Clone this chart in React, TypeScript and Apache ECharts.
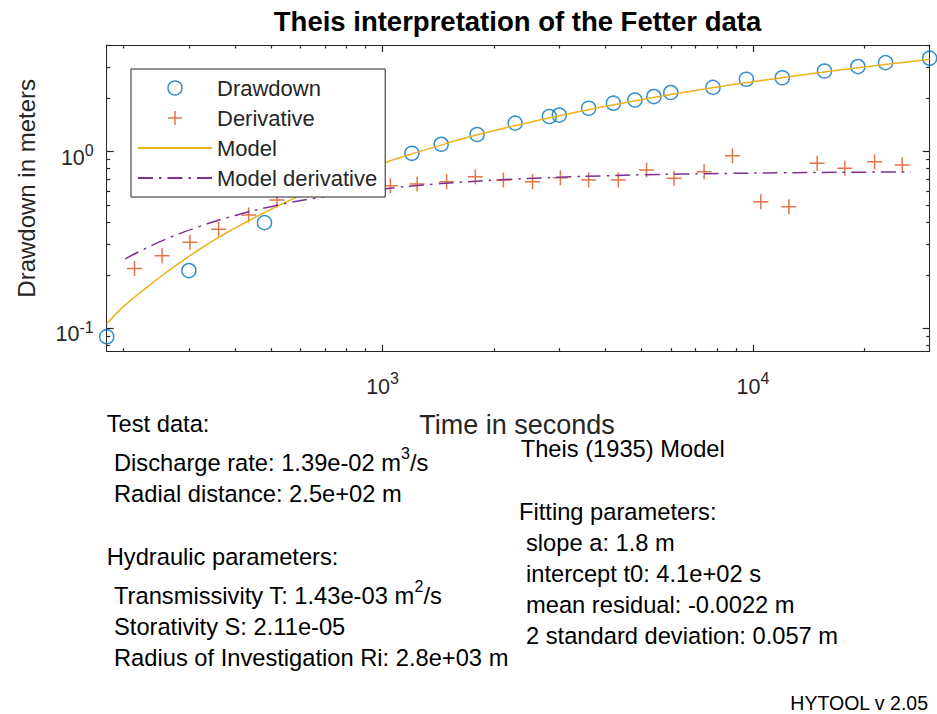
import React, { useEffect, useRef } from 'react';
import * as echarts from 'echarts';

// ---------- data ----------
const timeS = [180, 300, 480, 720, 1200, 1440, 1800, 2280, 2820, 3000, 3600, 4200, 4800, 5400, 6000, 7800, 9600, 12000, 15600, 19200, 22800, 30000];
const drawdownM = [0.0895, 0.212, 0.396, 0.64, 0.978, 1.1, 1.25, 1.45, 1.58, 1.61, 1.76, 1.88, 1.96, 2.05, 2.16, 2.31, 2.57, 2.62, 2.86, 3.03, 3.19, 3.38];

const derivTimeS = [214, 254, 302, 361, 435, 519, 1050, 1240, 1490, 1780, 2120, 2540, 3020, 3600, 4330, 5160, 6120, 7380, 8800, 10500, 12500, 14900, 17700, 21300, 25300];
const derivM = [0.218, 0.257, 0.307, 0.363, 0.438, 0.532, 0.641, 0.656, 0.676, 0.721, 0.691, 0.676, 0.711, 0.691, 0.691, 0.787, 0.706, 0.77, 0.948, 0.52, 0.488, 0.859, 0.804, 0.877, 0.84];

const modelTimeS = [180, 200, 230, 260, 300, 350, 400, 480, 600, 720, 850, 1000, 1200, 1500, 1800, 2300, 3000, 4000, 5000, 6000, 8000, 10000, 12500, 15000, 20000, 25000, 30000];
const modelM = [0.106, 0.133, 0.169, 0.206, 0.255, 0.314, 0.369, 0.452, 0.565, 0.664, 0.76, 0.858, 0.971, 1.118, 1.245, 1.409, 1.597, 1.805, 1.969, 2.105, 2.32, 2.488, 2.656, 2.795, 3.015, 3.185, 3.33];

const modelDerivTimeS = [202, 250, 321, 400, 507, 650, 850, 1016, 1300, 1600, 2000, 3000, 4000, 5000, 6500, 8700, 12000, 18000, 26700];
const modelDerivM = [0.247, 0.308, 0.377, 0.435, 0.491, 0.543, 0.59, 0.617, 0.648, 0.67, 0.689, 0.716, 0.73, 0.739, 0.747, 0.753, 0.759, 0.764, 0.767];

const xMajorTicks = [1000, 10000];
const xMinorTicks = [200, 300, 400, 500, 600, 700, 800, 900, 2000, 3000, 4000, 5000, 6000, 7000, 8000, 9000, 20000, 30000];
const yMajorTicks = [0.1, 1];
const yMinorTicks = [0.08, 0.09, 0.2, 0.3, 0.4, 0.5, 0.6, 0.7, 0.8, 0.9, 2, 3, 4];

const xRange = [180, 30000];
const yRange = [0.0736, 4.015];

const seriesNames = ['Drawdown', 'Derivative', 'Model', 'Model derivative'];
const titleText = 'Theis interpretation of the Fetter data';
const xAxisName = 'Time in seconds';
const yAxisName = 'Drawdown in meters';

const testHeader = 'Test data:';
const dischargeText = ['Discharge rate: 1.39e-02 m', '3', '/s'];
const radialText = 'Radial distance: 2.5e+02 m';
const hydraulicHeader = 'Hydraulic parameters:';
const transText = ['Transmissivity T: 1.43e-03 m', '2', '/s'];
const storText = 'Storativity S: 2.11e-05';
const radiusText = 'Radius of Investigation Ri: 2.8e+03 m';
const modelHeader = 'Theis (1935) Model';
const fittingHeader = 'Fitting parameters:';
const fittingLines = ['slope a: 1.8 m', 'intercept t0: 4.1e+02 s', 'mean residual: -0.0022 m', '2 standard deviation: 0.057 m'];
const versionText = 'HYTOOL v 2.05';

// ---------- styling ----------
const FONT = "'Liberation Sans', Arial, Helvetica, sans-serif";
const AX = '#262626';
const C_BLUE = '#0072BD';
const C_RED = '#D95319';
const C_YELLOW = '#EDB120';
const C_PURPLE = '#7E2F8E';

const expFormatter = (v: number) => {
  const e = Math.round(Math.log10(v));
  return `{n|10}{s|${e}}`;
};

const xRich = {
  n: { fontSize: 21.5, fontFamily: FONT, color: AX, lineHeight: 30, verticalAlign: 'bottom' },
  s: { fontSize: 16, fontFamily: FONT, color: AX, verticalAlign: 'top', padding: [3, 0, 0, 0] },
};
const yRich = {
  n: { fontSize: 21.5, fontFamily: FONT, color: AX, lineHeight: 34, verticalAlign: 'bottom' },
  s: { fontSize: 16, fontFamily: FONT, color: AX, verticalAlign: 'top', padding: [8, 0, 0, 0] },
};

function makeAxis(kind: 'x' | 'y', position: string, ticks: number[], len: number, showLine: boolean, label: any) {
  const range = kind === 'x' ? xRange : yRange;
  return {
    type: 'log',
    logBase: 10,
    gridIndex: 0,
    position,
    min: range[0],
    max: range[1],
    silent: true,
    axisLine: { show: showLine, onZero: false, lineStyle: { color: AX, width: 1 } },
    axisTick: { show: true, inside: true, length: len, customValues: ticks, lineStyle: { color: AX, width: 1.2 } },
    axisLabel: label || { show: false },
    splitLine: { show: false },
    minorTick: { show: false },
    minorSplitLine: { show: false },
    axisPointer: { show: false },
  };
}

function txt(text: string, x: number, y: number, size: number, extra: any = {}, elExtra: any = {}) {
  return {
    type: 'text',
    x,
    y,
    silent: true,
    z: 10,
    ...elExtra,
    style: {
      text,
      fill: '#000',
      fontSize: size,
      fontFamily: FONT,
      textAlign: 'left',
      textVerticalAlign: 'middle',
      verticalAlign: 'middle',
      ...extra,
    },
  };
}

function supTxt(parts: string[], x: number, y: number) {
  return {
    type: 'text',
    x,
    y,
    silent: true,
    z: 10,
    style: {
      text: `{n|${parts[0]}}{s|${parts[1]}}{n|${parts[2]}}`,
      fill: '#000',
      fontFamily: FONT,
      fontSize: 23.7,
      textAlign: 'left',
      textVerticalAlign: 'middle',
      verticalAlign: 'middle',
      rich: {
        n: { fontSize: 23.7, fontFamily: FONT, fill: '#000', color: '#000', lineHeight: 35, verticalAlign: 'middle' },
        s: { fontSize: 16, fontFamily: FONT, fill: '#000', color: '#000', verticalAlign: 'top' },
      },
    },
  };
}

const zip = (a: number[], b: number[]) => a.map((v, i) => [v, b[i]]);

const hiddenSymbol = { color: 'rgba(0,0,0,0)', borderColor: 'rgba(0,0,0,0)', borderWidth: 0, opacity: 0 };

const option: any = {
  animation: false,
  backgroundColor: '#ffffff',
  textStyle: { fontFamily: FONT },
  grid: { left: 106.7, right: 7.3, top: 45, bottom: 362.3, containLabel: false, outerBoundsMode: 'none' },
  xAxis: [
    makeAxis('x', 'bottom', xMajorTicks, 7, true, {
      show: true,
      customValues: xMajorTicks,
      formatter: expFormatter,
      margin: 16,
      rich: xRich,
      showMinLabel: true,
      showMaxLabel: true,
    }),
    makeAxis('x', 'bottom', xMinorTicks, 3.5, false, null),
    makeAxis('x', 'top', xMajorTicks, 7, true, null),
    makeAxis('x', 'top', xMinorTicks, 3.5, false, null),
  ],
  yAxis: [
    makeAxis('y', 'left', yMajorTicks, 7, true, {
      show: true,
      customValues: yMajorTicks,
      formatter: expFormatter,
      margin: 13,
      rich: yRich,
      showMinLabel: true,
      showMaxLabel: true,
    }),
    makeAxis('y', 'left', yMinorTicks, 3.5, false, null),
    makeAxis('y', 'right', yMajorTicks, 7, true, null),
    makeAxis('y', 'right', yMinorTicks, 3.5, false, null),
  ],
  legend: {
    data: [
      { name: seriesNames[0] },
      { name: seriesNames[1] },
      { name: seriesNames[2], itemStyle: hiddenSymbol },
      { name: seriesNames[3], itemStyle: hiddenSymbol },
    ],
    orient: 'vertical',
    left: 131,
    top: 69,
    itemWidth: 74,
    itemHeight: 14,
    itemGap: 8,
    padding: [8, 8, 8, 6],
    backgroundColor: '#ffffff',
    borderColor: AX,
    borderWidth: 1,
    borderRadius: 0,
    selectedMode: false,
    textStyle: { fontSize: 22, color: AX, fontFamily: FONT },
    itemStyle: { borderWidth: 1.5 },
    z: 5,
  },
  series: [
    {
      name: seriesNames[0],
      type: 'scatter',
      data: zip(timeS, drawdownM),
      symbol: 'circle',
      symbolSize: 14,
      itemStyle: { color: 'rgba(0,0,0,0)', borderColor: C_BLUE, borderWidth: 1.5 },
      z: 2,
    },
    {
      name: seriesNames[1],
      type: 'scatter',
      data: zip(derivTimeS, derivM),
      symbol: 'path://M5,0L5,10M0,5L10,5',
      symbolSize: 15,
      itemStyle: { color: 'rgba(0,0,0,0)', borderColor: C_RED, borderWidth: 1.5 },
      z: 2,
    },
    {
      name: seriesNames[2],
      type: 'line',
      data: zip(modelTimeS, modelM),
      symbol: 'none',
      showSymbol: false,
      smooth: true,
      lineStyle: { color: C_YELLOW, width: 1.5 },
      itemStyle: { color: C_YELLOW },
      z: 3,
    },
    {
      name: seriesNames[3],
      type: 'line',
      data: zip(modelDerivTimeS, modelDerivM),
      symbol: 'none',
      showSymbol: false,
      smooth: true,
      lineStyle: { color: C_PURPLE, width: 1.5, type: [15, 6, 2.5, 6] },
      itemStyle: { color: C_PURPLE },
      z: 3,
    },
  ],
  graphic: [
    txt(titleText, 517.5, 21.5, 27.5, { fontWeight: 'bold', textAlign: 'center' }),
    txt(xAxisName, 517, 424.5, 27, { textAlign: 'center', fill: AX }),
    txt(yAxisName, 26, 188.3, 24, { textAlign: 'center', fill: AX }, { rotation: Math.PI / 2 }),
    txt(testHeader, 106.7, 424.2, 23.7),
    supTxt(dischargeText, 114, 463.3),
    txt(radialText, 114, 494.3, 23.7),
    txt(hydraulicHeader, 106.7, 557, 23.7),
    supTxt(transText, 114, 595.7),
    txt(storText, 114, 626.7, 23.7),
    txt(radiusText, 114, 658.3, 23.7),
    txt(modelHeader, 520.7, 448.7, 23.7),
    txt(fittingHeader, 519, 511.7, 23.7),
    txt(fittingLines[0], 526, 542.8, 23.7),
    txt(fittingLines[1], 526, 573.7, 23.7),
    txt(fittingLines[2], 526, 604.5, 23.7),
    txt(fittingLines[3], 526, 635.5, 23.7),
    txt(versionText, 928, 703.3, 19.5, { textAlign: 'right' }),
  ],
};

export default function App() {
  const ref = useRef<HTMLDivElement>(null);
  useEffect(() => {
    if (!ref.current) return;
    const chart = echarts.init(ref.current, undefined, { renderer: 'svg' });
    chart.setOption(option);
    return () => {
      chart.dispose();
    };
  }, []);
  return (
    <div
      ref={ref}
      style={{ position: 'fixed', left: 0, top: 0, width: 937, height: 714, background: '#ffffff' }}
    />
  );
}
